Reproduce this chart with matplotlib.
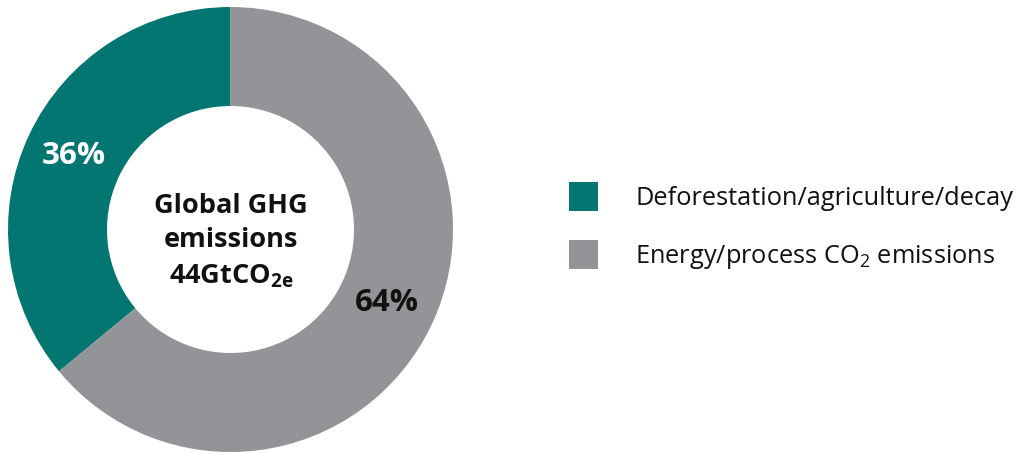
import matplotlib
matplotlib.use("Agg")
import matplotlib.pyplot as plt

plt.rcParams["font.family"] = ["Open Sans", "DejaVu Sans"]
plt.rcParams["mathtext.default"] = "regular"

categories = ["Deforestation/agriculture/decay", "Energy/process CO$_2$ emissions"]
shares = [36, 64]
colors = ["#037672", "#939497"]
label_colors = ["white", "#111111"]

W, H = 1021, 453
fig = plt.figure(figsize=(W / 100, H / 100), dpi=100)
ax = fig.add_axes([0, 0, 1, 1])

cx, cy = 230.5, H - 229.5
r_out, r_in = 222.5, 123.5

wedges, texts, autotexts = ax.pie(
    shares,
    colors=colors,
    startangle=90,
    counterclock=True,
    center=(cx, cy),
    radius=r_out,
    autopct="%d%%",
    pctdistance=(r_out + r_in) / 2 / r_out,
    wedgeprops=dict(width=r_out - r_in, linewidth=0),
    textprops=dict(fontsize=22.5, fontweight="bold"),
)
for t, c in zip(autotexts, label_colors):
    t.set_color(c)

ax.set_xlim(0, W)
ax.set_ylim(0, H)
ax.set_aspect("auto")
ax.axis("off")

# centre caption
cap = dict(ha="center", va="center", fontsize=19.5, fontweight="bold",
           color="#111111")
ax.text(cx, H - 206, "Global GHG", **cap)
ax.text(cx, H - 240, "emissions", **cap)
ax.text(cx + 1, H - 276, "44GtCO$_{2e}$", **cap)

fs = 18.3
fs_px = fs * 100 / 72
# legend patch height = fs*hh - 0.35*fs*(hh - 0.7); solve for a 29 px square
hh = (29 - 0.245 * fs_px) / (0.65 * fs_px)
leg = ax.legend(
    wedges, categories,
    loc="upper left",
    bbox_to_anchor=(569 / W, 1 - 182 / H),
    frameon=False,
    borderpad=0, borderaxespad=0,
    handlelength=29 / fs_px, handleheight=hh,
    handletextpad=37 / fs_px,
    labelspacing=29 / fs_px,
    prop=dict(size=fs),
    labelcolor="#111111",
)

fig.savefig("out.png", dpi=100)
